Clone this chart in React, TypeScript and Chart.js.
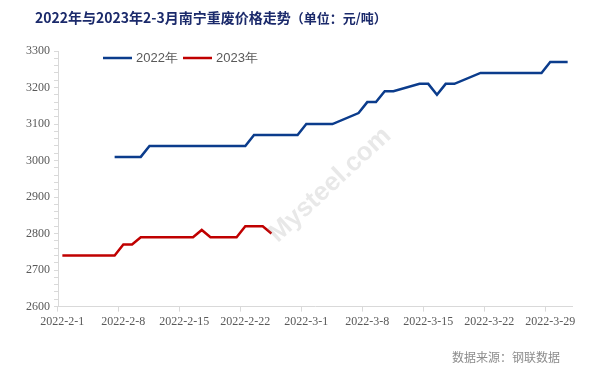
import React, { useEffect, useRef } from "react";
import { Chart, registerables } from "chart.js";

Chart.register(...registerables);

const TITLE_MAIN = "2022年与2023年2-3月南宁重废价格走势";
const TITLE_UNIT = "（单位：元/吨）";
const SOURCE = "数据来源：钢联数据";
const SERIES_NAMES = ["2022年", "2023年"];

// Daily categories 2022-2-1 .. 2022-3-31
const FEB_DAYS = 28;
const MAR_DAYS = 31;
const dates: string[] = [
  ...Array.from({ length: FEB_DAYS }, (_, i) => `2022-2-${i + 1}`),
  ...Array.from({ length: MAR_DAYS }, (_, i) => `2022-3-${i + 1}`),
];

const N = null;
// 2022 prices (index = day from 2022-2-1)
const price2022: (number | null)[] = [
  N, N, N, N, N, N, 3010, 3010, 3010, 3010,
  3040, 3040, 3040, 3040, 3040, 3040, 3040, 3040, 3040, 3040,
  3040, 3040, 3070, 3070, 3070, 3070, 3070, 3070, 3100, 3100,
  3100, 3100, N, N, 3130, 3160, 3160, 3190, 3190, N,
  N, 3210, 3210, 3180, 3210, 3210, N, N, 3240, 3240,
  3240, 3240, 3240, 3240, 3240, 3240, 3270, 3270, 3270,
];
// 2023 prices
const price2023: (number | null)[] = [
  2740, 2740, 2740, 2740, 2740, 2740, 2740, 2770, 2770, 2790,
  2790, 2790, 2790, 2790, 2790, 2790, 2810, 2790, 2790, 2790,
  2790, 2820, 2820, 2820, 2800,
];

const Y_MIN = 2600;
const Y_MAX = 3300;
const Y_MAJOR = 100;
const Y_MINOR = 20;

const BLUE = "#0B3C8C";
const RED = "#C00000";
const AXIS = "#D9D9D9";
const TEXT = "#595959";

const overlay = {
  id: "overlay",
  afterDraw(chart: any) {
    const ctx = chart.ctx;
    ctx.save();
    // title
    ctx.textBaseline = "middle";
    ctx.fillStyle = "#1B2A6B";
    ctx.font = "bold 14px 'Noto Sans CJK SC'";
    ctx.textAlign = "left";
    ctx.fillText(TITLE_MAIN, 35, 18);
    const w = ctx.measureText(TITLE_MAIN).width;
    ctx.font = "bold 13px 'Noto Sans CJK SC'";
    ctx.fillText(TITLE_UNIT, 35 + w, 18);

    // legend
    const items = [
      { name: SERIES_NAMES[0], color: BLUE, x: 103 },
      { name: SERIES_NAMES[1], color: RED, x: 183 },
    ];
    ctx.font = "13px 'Liberation Sans'";
    for (const it of items) {
      ctx.strokeStyle = it.color;
      ctx.lineWidth = 2.5;
      ctx.beginPath();
      ctx.moveTo(it.x, 58);
      ctx.lineTo(it.x + 29, 58);
      ctx.stroke();
      ctx.fillStyle = TEXT;
      ctx.fillText(it.name, it.x + 33, 58);
    }

    // watermark
    ctx.save();
    ctx.translate(330, 185);
    ctx.rotate(-Math.PI / 4.2);
    ctx.fillStyle = "rgba(150,150,150,0.22)";
    ctx.font = "bold 26px 'Liberation Sans'";
    ctx.textAlign = "center";
    ctx.fillText("Mysteel.com", 0, 0);
    ctx.restore();

    // source
    ctx.font = "12px 'Noto Sans CJK SC'";
    ctx.fillStyle = "#8C8C8C";
    ctx.textAlign = "left";
    ctx.fillText(SOURCE, 452, 357);
    ctx.restore();
  },
};

export default function App() {
  const ref = useRef<HTMLCanvasElement | null>(null);
  useEffect(() => {
    if (!ref.current) return;
    const chart = new Chart(ref.current, {
      type: "line",
      data: {
        labels: dates,
        datasets: [
          {
            label: SERIES_NAMES[0],
            data: price2022,
            borderColor: BLUE,
            backgroundColor: BLUE,
            borderWidth: 2.5,
            pointRadius: 0,
            spanGaps: true,
            tension: 0,
          },
          {
            label: SERIES_NAMES[1],
            data: price2023,
            borderColor: RED,
            backgroundColor: RED,
            borderWidth: 2.5,
            pointRadius: 0,
            spanGaps: true,
            tension: 0,
          },
        ],
      },
      options: {
        responsive: false,
        animation: false,
        layout: { padding: { left: 22, right: 23, top: 51, bottom: 41 } },
        plugins: {
          legend: { display: false },
          title: { display: false },
          tooltip: { enabled: false },
        },
        scales: {
          x: {
            type: "category",
            offset: true,
            border: { color: AXIS, width: 1 },
            grid: {
              offset: true,
              drawOnChartArea: false,
              tickLength: 5,
              tickColor: (c: any) => (c.index % 7 === 0 ? AXIS : "rgba(0,0,0,0)"),
            },
            ticks: {
              autoSkip: false,
              maxRotation: 0,
              minRotation: 0,
              padding: 3,
              color: TEXT,
              font: { family: "'Liberation Serif'", size: 12 },
              callback: (_v: any, i: number) => (i % 7 === 0 ? dates[i] : ""),
            },
          },
          y: {
            min: Y_MIN,
            max: Y_MAX,
            border: { color: AXIS, width: 1 },
            grid: {
              drawOnChartArea: false,
              tickLength: 4,
              tickColor: AXIS,
            },
            ticks: {
              stepSize: Y_MINOR,
              autoSkip: false,
              padding: 4,
              color: TEXT,
              font: { family: "'Liberation Serif'", size: 12 },
              callback: (v: any) => (Number(v) % Y_MAJOR === 0 ? String(v) : ""),
            },
          },
        },
      },
      plugins: [overlay],
    });
    return () => chart.destroy();
  }, []);
  return (
    <div style={{ position: "fixed", left: 0, top: 0, width: 595, height: 373, background: "#fff" }}>
      <canvas ref={ref} width={595} height={373} />
    </div>
  );
}
